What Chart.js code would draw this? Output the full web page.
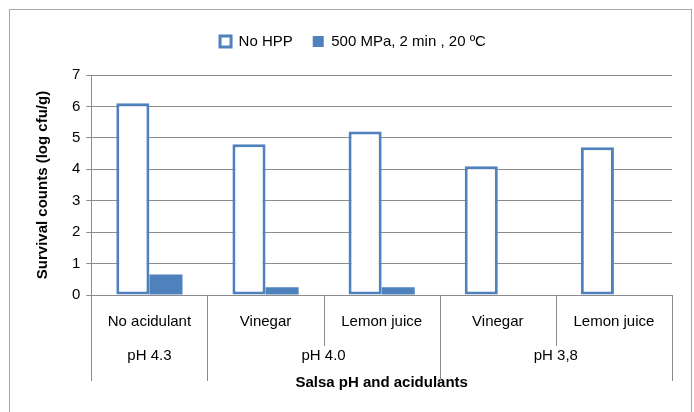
<!DOCTYPE html>
<html>
<head>
<meta charset="utf-8">
<script src="https://cdn.jsdelivr.net/npm/chart.js@4"></script>
<style>
  html, body { margin: 0; padding: 0; background: #fff; }
  #wrap { width: 694px; height: 412px; position: relative; }
</style>
</head>
<body>
<div id="wrap"><canvas id="chart" width="694" height="412"></canvas></div>
<script>
// data
const categories = ['No acidulant', 'Vinegar', 'Lemon juice', 'Vinegar', 'Lemon juice'];
const groups = ['pH 4.3', 'pH 4.0', 'pH 3,8'];
const groupSpans = [1, 2, 2];
const noHpp = [6.1, 4.8, 5.2, 4.1, 4.7];
const hpp500 = [0.65, 0.25, 0.25, 0, 0];
const yTicks = [0, 1, 2, 3, 4, 5, 6, 7];

const blue = '#4F81BD';
const fontFamily = "'Liberation Sans', 'Open Sans', sans-serif";

// extra room under the legend
const legendGap = {
  id: 'legendGap',
  beforeInit(chart) {
    const fit = chart.legend.fit;
    chart.legend.fit = function () {
      fit.bind(chart.legend)();
      this.height += 16;
    };
  }
};

// frame, category separators and the second label row
const axisRows = {
  id: 'axisRows',
  beforeDraw(chart) {
    const ctx = chart.ctx;
    ctx.save();
    ctx.strokeStyle = '#A6A6A6';
    ctx.lineWidth = 1;
    ctx.strokeRect(9.5, 9.5, 682, 430);
    ctx.restore();
  },
  afterDraw(chart) {
    const ctx = chart.ctx;
    const x = chart.scales.x;
    const bottom = chart.chartArea.bottom;
    const half = (x.getPixelForValue(1) - x.getPixelForValue(0)) / 2;
    const edges = [];
    for (let i = 0; i < categories.length; i++) edges.push(x.getPixelForValue(i) - half);
    edges.push(x.getPixelForValue(categories.length - 1) + half);

    const groupEdges = [0];
    groupSpans.forEach(s => groupEdges.push(groupEdges[groupEdges.length - 1] + s));

    ctx.save();
    ctx.strokeStyle = '#8C8C8C';
    ctx.lineWidth = 1;
    edges.forEach((px, i) => {
      const len = groupEdges.includes(i) ? 86 : 51;
      const xx = Math.round(px) + 0.5;
      ctx.beginPath();
      ctx.moveTo(xx, bottom);
      ctx.lineTo(xx, bottom + len);
      ctx.stroke();
    });

    ctx.fillStyle = '#000';
    ctx.font = '15px ' + fontFamily;
    ctx.textAlign = 'center';
    ctx.textBaseline = 'middle';
    groups.forEach((g, i) => {
      const cx = (edges[groupEdges[i]] + edges[groupEdges[i + 1]]) / 2;
      ctx.fillText(g, cx, bottom + 61);
    });
    ctx.restore();
  }
};

new Chart(document.getElementById('chart'), {
  type: 'bar',
  data: {
    labels: categories,
    datasets: [
      {
        label: 'No HPP',
        data: noHpp,
        backgroundColor: '#FFFFFF',
        borderColor: blue,
        borderWidth: 3,
        borderSkipped: false
      },
      {
        label: '500 MPa, 2 min , 20 ºC',
        data: hpp500,
        backgroundColor: blue,
        borderWidth: 0
      }
    ]
  },
  options: {
    responsive: false,
    animation: false,
    categoryPercentage: 0.57,
    barPercentage: 1.0,
    layout: { padding: { left: 34, right: 22, top: 14, bottom: 20 } },
    plugins: {
      legend: {
        position: 'top',
        labels: {
          color: '#000',
          font: { family: fontFamily, size: 15 },
          boxWidth: 11,
          boxHeight: 11,
          padding: 20
        }
      },
      tooltip: { enabled: false }
    },
    scales: {
      x: {
        grid: { display: false },
        border: { display: false },
        ticks: {
          color: '#000',
          font: { family: fontFamily, size: 15 },
          padding: 10,
          maxRotation: 0
        },
        title: {
          display: true,
          text: 'Salsa pH and acidulants',
          color: '#000',
          font: { family: fontFamily, size: 15, weight: 'bold' },
          padding: { top: 33, bottom: 0 }
        }
      },
      y: {
        min: 0,
        max: 7,
        afterBuildTicks: scale => { scale.ticks = yTicks.map(v => ({ value: v })); },
        grid: { color: '#8C8C8C', tickLength: 5 },
        border: { display: true, color: '#8C8C8C' },
        ticks: {
          color: '#000',
          font: { family: fontFamily, size: 15 },
          padding: 6
        },
        title: {
          display: true,
          text: 'Survival counts (log cfu/g)',
          color: '#000',
          font: { family: fontFamily, size: 15, weight: 'bold' },
          padding: { top: 0, bottom: 14 }
        }
      }
    }
  },
  plugins: [legendGap, axisRows]
});
</script>
</body>
</html>
